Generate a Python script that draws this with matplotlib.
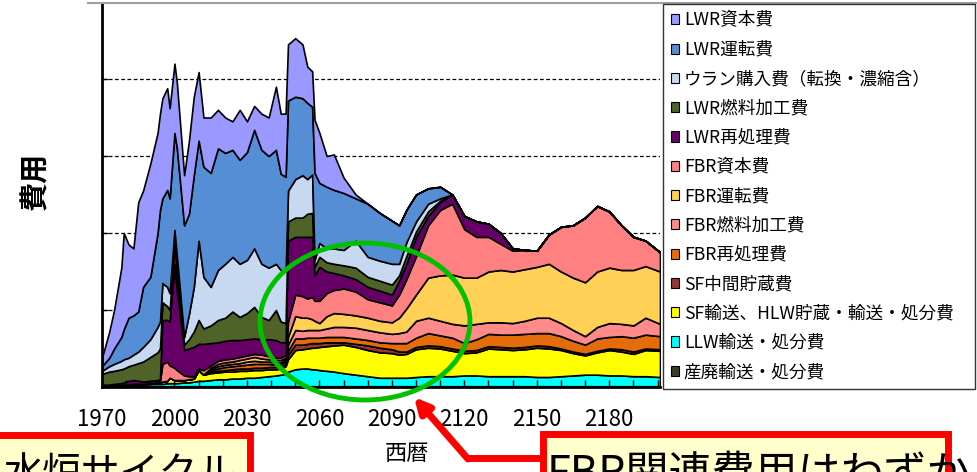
import matplotlib
matplotlib.use('Agg')
import matplotlib.pyplot as plt
from matplotlib.patches import Patch, Ellipse, Rectangle
from matplotlib.lines import Line2D

plt.rcParams['font.family'] = ['Noto Sans CJK JP', 'DejaVu Sans']

# cost by year, one list per cost item (arbitrary units)
years = [1970, 1973, 1975, 1978, 1979, 1981, 1983, 1985, 1987, 1990,
         1993, 1994, 1995, 1997, 1998, 2000, 2001, 2004, 2006, 2008,
         2010, 2012, 2015, 2018, 2021, 2024, 2027, 2030, 2033, 2036,
         2039, 2042, 2044, 2046, 2047, 2050, 2053, 2055, 2057, 2058,
         2060, 2063, 2066, 2070, 2075, 2080, 2085, 2090, 2093, 2096,
         2100, 2105, 2110, 2115, 2120, 2125, 2130, 2135, 2140, 2145,
         2150, 2155, 2160, 2165, 2170, 2175, 2180, 2185, 2190, 2195,
         2201]

lwr_capital = [.11, .34, .50, .90, 1.25, .95, .87, 1.42, 1.25, 1.47,
               1.30, 1.25, 1.30, 1.32, 1.17, .90, .85, .65, .95, 1.02,
               .89, .64, .72, .50, .46, .37, .65, .40, .31, .47,
               .50, .82, .78, .82, .73, .76, .70, .47, .46, .69,
               .65, .40, .46, .20, .05, 0, 0, 0, 0, 0,
               0, 0, 0, 0, 0, 0, 0, 0, 0, 0,
               0, 0, 0, 0, 0, 0, 0, 0, 0, 0,
               0]
lwr_ops = [.06, .11, .20, .31, .39, .52, .51, .52, .78, .81,
           1.22, 1.45, 1.10, 1.26, 1.23, 1.26, 1.40, 1.45, 1.30, 1.45,
           1.30, 1.43, 1.48, 1.58, 1.44, 1.39, 1.35, 1.40, 1.54, 1.48,
           1.45, 1.48, 1.25, 1.23, 1.17, 1.07, 1.00, .99, .88, 1.13,
           .78, .80, .76, .74, .55, .69, .62, .56, .50, .42,
           .35, .20, .15, 0, 0, 0, 0, 0, 0, 0,
           0, 0, 0, 0, 0, 0, 0, 0, 0, 0,
           0]
uranium = [.04, .07, .09, .11, .12, .11, .13, .15, .19, .23,
           .33, .35, .25, .25, .22, .19, .20, .10, .33, .58,
           1.03, .67, .50, .65, .70, .71, .69, .69, .76, .69,
           .68, .60, .67, .67, .40, .50, .55, .45, .50, .09,
           .18, .18, .20, .20, .35, .26, .26, .27, .15, .18,
           .13, .10, .03, 0, 0, 0, 0, 0, 0, 0,
           0, 0, 0, 0, 0, 0, 0, 0, 0, 0,
           0]
lwr_fuel = [.14, .17, .17, .18, .18, .19, .20, .23, .26, .31,
            .36, .40, .23, .18, .15, .25, .25, .07, .12, .20,
            .31, .20, .23, .29, .30, .37, .30, .34, .41, .29,
            .25, .39, .27, .25, .25, .25, .25, .30, .31, .11,
            .13, .12, .12, .13, .15, .13, .13, .13, .07, .10,
            .07, .06, .02, 0, 0, 0, 0, 0, 0, 0,
            0, 0, 0, 0, 0, 0, 0, 0, 0, 0,
            0]
lwr_repro = [.01, .01, .02, .02, .03, .05, .05, .04, .03, .03,
             .03, .02, .57, .54, .57, 1.35, 1.03, .33, .36, .38,
             .32, .34, .29, .24, .24, .24, .22, .21, .20, .20,
             .22, .23, .20, .16, 1.05, .75, .77, .80, .78, .33,
             .44, .28, .22, .17, .16, .16, .15, .14, .18, .20,
             .25, .12, .10, .12, .17, .20, .17, .14, .03, 0,
             0, 0, 0, 0, 0, 0, 0, 0, 0, 0,
             0]
fbr_capital = [0, 0, 0, 0, 0, 0, 0, 0, 0, 0,
               .01, .02, .23, .25, .16, .16, .13, .06, .04, .03,
               .02, .06, .03, .04, .04, .04, .04, .04, .04, .05,
               .04, .03, .03, .04, .20, .28, .28, .25, .29, .26,
               .29, .30, .30, .33, .31, .24, .24, .22, .30, .38,
               .50, .68, .85, .92, .63, .53, .45, .34, .27, .25,
               .21, .38, .58, .68, .84, .85, .73, .58, .43, .33,
               .25]
fbr_ops = [0, 0, 0, 0, 0, 0, 0, 0, 0, 0,
           0, 0, 0, 0, 0, 0, 0, 0, 0, 0,
           0, 0, .02, .03, .03, .03, .04, .04, .05, .04,
           .03, .03, .03, .02, .10, .18, .17, .16, .14, .12,
           .09, .16, .18, .17, .16, .16, .15, .15, .20, .30,
           .34, .52, .59, .64, .62, .60, .66, .68, .67, .67,
           .66, .70, .67, .68, .70, .72, .72, .70, .72, .67,
           .68]
fbr_fuel = [0, 0, 0, 0, 0, 0, 0, 0, 0, 0,
            0, 0, 0, 0, 0, 0, 0, 0, 0, 0,
            0, 0, .02, .03, .03, .03, .03, .04, .04, .03,
            .03, .03, .02, .03, .08, .11, .10, .10, .10, .10,
            .10, .11, .13, .13, .14, .13, .13, .12, .13, .15,
            .22, .20, .19, .18, .23, .20, .15, .16, .15, .17,
            .20, .20, .17, .14, .11, .15, .18, .16, .16, .22,
            .16]
fbr_repro = [0, 0, 0, 0, 0, 0, 0, 0, 0, 0,
             0, 0, 0, 0, 0, 0, 0, 0, 0, 0,
             0, 0, .02, .03, .04, .04, .04, .05, .05, .05,
             .04, .03, .03, .03, .05, .08, .08, .08, .07, .07,
             .07, .07, .07, .07, .07, .07, .07, .08, .11, .11,
             .12, .16, .14, .14, .10, .14, .16, .16, .17, .17,
             .16, .17, .16, .14, .12, .16, .15, .17, .18, .18,
             .17]
sf_storage = [0, 0, 0, 0, 0, 0, 0, 0, 0, 0,
              0, 0, 0, 0, 0, 0, 0, 0, 0, 0,
              0, 0, .01, .02, .02, .03, .03, .03, .03, .03,
              .03, .03, .03, .03, .06, .07, .06, .06, .06, .06,
              .05, .05, .04, .03, .04, .06, .06, .05, .04, .03,
              .03, .03, .03, .03, .03, .03, .03, .03, .03, .03,
              .03, .03, .02, .02, .02, .02, .02, .03, .03, .02,
              .02]
sf_hlw = [0, 0, 0, .01, .01, .01, .01, .01, .01, .01,
          .01, .02, .03, .03, .07, .04, .04, .03, .04, .04,
          .14, .08, .09, .09, .10, .09, .10, .09, .10, .09,
          .09, .08, .08, .10, .16, .25, .25, .26, .28, .28,
          .30, .32, .34, .37, .36, .34, .33, .32, .30, .31,
          .36, .37, .36, .33, .29, .30, .36, .35, .34, .35,
          .38, .37, .34, .29, .25, .29, .33, .31, .29, .34,
          .34]
llw = [.01, .01, .01, .01, .01, .01, .02, .02, .02, .03,
       .03, .03, .03, .04, .04, .04, .04, .05, .05, .06,
       .07, .07, .08, .09, .09, .10, .10, .11, .11, .12,
       .13, .14, .15, .16, .19, .22, .23, .23, .22, .22,
       .21, .20, .19, .17, .15, .13, .11, .11, .11, .11,
       .12, .13, .13, .13, .14, .14, .13, .13, .13, .13,
       .12, .12, .13, .14, .15, .15, .14, .14, .13, .13,
       .12]
industrial_waste = [.01] * len(years)

labels = ['LWR資本費', 'LWR運転費', 'ウラン購入費（転換・濃縮含）', 'LWR燃料加工費',
          'LWR再処理費', 'FBR資本費', 'FBR運転費', 'FBR燃料加工費', 'FBR再処理費',
          'SF中間貯蔵費', 'SF輸送、HLW貯蔵・輸送・処分費', 'LLW輸送・処分費',
          '産廃輸送・処分費']
series = [lwr_capital, lwr_ops, uranium, lwr_fuel, lwr_repro, fbr_capital,
          fbr_ops, fbr_fuel, fbr_repro, sf_storage, sf_hlw, llw, industrial_waste]
colors = ['#9999FF', '#558ED5', '#C6D9F1', '#4F6228', '#660066', '#FF8080',
          '#FFD055', '#FF8A8A', '#E46C0A', '#953735', '#FFFF00', '#00FFFF',
          '#403A2A']

W, H = 977, 472
fig = plt.figure(figsize=(W / 100, H / 100), dpi=100)
ax = fig.add_axes([102 / W, 1 - 387 / H, 558 / W, 383 / H])

# first series in the list sits on top of the stack
ax.stackplot(years, *series[::-1], colors=colors[::-1],
             edgecolor='black', linewidth=1.2, zorder=1)

for v in [1, 2, 3, 4]:
    ax.axhline(v, color='black', lw=0.9, ls=(0, (3, 2)), zorder=0.5)

ax.set_xlim(1970, 2201)
ax.set_ylim(0, 383 / 77)
ax.set_axisbelow(False)

for s in ['top', 'right']:
    ax.spines[s].set_visible(False)
for s in ['left', 'bottom']:
    ax.spines[s].set_linewidth(2)
    ax.spines[s].set_zorder(3)

ax.set_xticks(list(range(1970, 2181, 30)))
ax.set_xticks(list(range(1980, 2201, 10)), minor=True)
ax.tick_params(axis='x', which='both', direction='in', length=5, width=1,
               labelsize=16, pad=15)
ax.set_yticks([1, 2, 3, 4])
ax.set_yticklabels([])
ax.tick_params(axis='y', direction='in', length=4, width=1)

fig.text(35 / W, 1 - 181 / H, '費用', rotation=90, fontsize=21,
         fontweight='bold', ha='center', va='center')
fig.text(407 / W, 1 - 453 / H, '西暦', fontsize=16, ha='center', va='center')

# chart-area frame line along the top
fig.add_artist(Line2D([88 / W, 1], [1 - 3 / H] * 2, color='#A0A0A0', lw=1.5))

handles = [Patch(facecolor=c, edgecolor='black', linewidth=0.8) for c in colors]
fig.legend(handles, labels, loc='upper left', mode='expand',
           bbox_to_anchor=(663 / W, 1 - 387 / H, 312 / W, 383 / H),
           frameon=True, fancybox=False, edgecolor='black', fontsize=12.7,
           handlelength=0.5, handleheight=0.5, handletextpad=0.25,
           labelspacing=0.64, borderpad=0.43, borderaxespad=0.)

# callouts
fig.add_artist(Ellipse((365 / W, 1 - 321.5 / H), 210 / W, 157 / H,
                       transform=fig.transFigure, fill=False,
                       edgecolor='#00C000', lw=3.5))

fig.add_artist(Line2D([542 / W, 466 / W], [1 - 458 / H] * 2, color='red',
                      lw=5, solid_capstyle='butt'))
ax.annotate('', xy=(414, H - 397), xycoords='figure pixels',
            xytext=(468, H - 459), textcoords='figure pixels',
            arrowprops=dict(arrowstyle='-|>', color='red', lw=5,
                            shrinkA=0, shrinkB=0, mutation_scale=22),
            annotation_clip=False)

fig.add_artist(Rectangle((-10 / W, 1 - 500 / H), 259.5 / W, 65.5 / H,
                         transform=fig.transFigure, facecolor='#FFFFCC',
                         edgecolor='red', lw=5))
fig.add_artist(Rectangle((542.5 / W, 1 - 500 / H), 405 / W, 66.5 / H,
                         transform=fig.transFigure, facecolor='#FFFFCC',
                         edgecolor='red', lw=5))
fig.text(4 / W, 1 - 486 / H, '水炉サイクル', fontsize=28, va='baseline',
         ha='left')
fig.text(547 / W, 1 - 487 / H, 'FBR関連費用はわずか', fontsize=31,
         va='baseline', ha='left')

fig.savefig('out.png', dpi=100)
